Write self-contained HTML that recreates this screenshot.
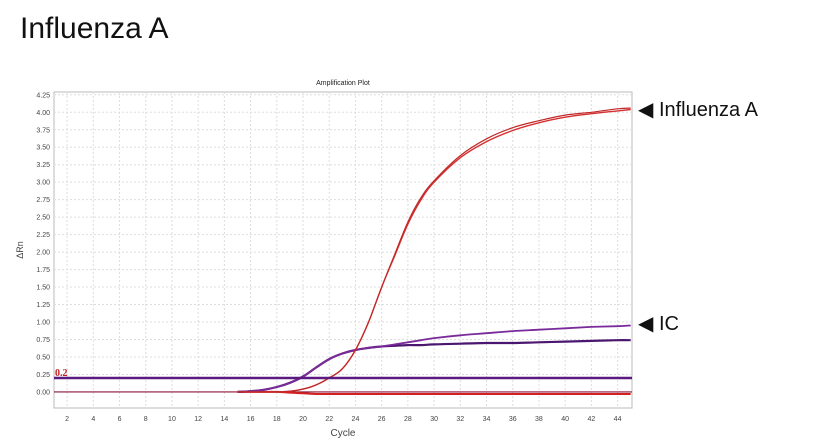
<!DOCTYPE html>
<html><head><meta charset="utf-8"><style>
body{margin:0;width:817px;height:442px;background:#fff;overflow:hidden;font-family:"Liberation Sans",sans-serif}
#title{position:absolute;left:20px;top:12px;font-size:30px;color:#111}
.lab{position:absolute;font-size:20px;color:#111}
</style></head><body>
<div id="title">Influenza A</div>
<div class="lab" style="left:638px;top:97px">◀ Influenza A</div>
<div class="lab" style="left:638px;top:311px">◀ IC</div>
<svg id="chart" width="817" height="442" style="position:absolute;left:0;top:0"></svg>
<script>
const xTicks=[2,4,6,8,10,12,14,16,18,20,22,24,26,28,30,32,34,36,38,40,42,44];
const yTicks=[0,0.25,0.5,0.75,1,1.25,1.5,1.75,2,2.25,2.5,2.75,3,3.25,3.5,3.75,4,4.25];
const cycles=[15,16,17,18,19,20,21,22,23,24,25,26,27,28,29,30,32,34,36,38,40,42,44,45];
const fluA1=[0,0,0,0,0.01,0.04,0.1,0.2,0.33,0.6,1.0,1.5,1.95,2.4,2.75,3.0,3.35,3.58,3.74,3.85,3.93,3.98,4.02,4.04];
const fluA2=[0,0,0,0,0.01,0.04,0.1,0.2,0.33,0.6,1.0,1.5,1.97,2.43,2.78,3.02,3.38,3.62,3.78,3.88,3.96,4.0,4.05,4.06];
const ic1=[0,0.01,0.03,0.07,0.13,0.22,0.35,0.47,0.55,0.6,0.63,0.65,0.66,0.67,0.67,0.68,0.69,0.7,0.7,0.71,0.72,0.73,0.74,0.74];
const ic2=[0,0.01,0.03,0.07,0.13,0.22,0.35,0.47,0.55,0.6,0.63,0.65,0.68,0.71,0.74,0.77,0.81,0.84,0.87,0.89,0.91,0.93,0.94,0.95];
const negCtrl=[0,0,0,0,-0.01,-0.02,-0.03,-0.03,-0.03,-0.03,-0.03,-0.03,-0.03,-0.03,-0.03,-0.03,-0.03,-0.03,-0.03,-0.03,-0.03,-0.03,-0.03,-0.03];
const threshold=0.2;
const L=54,R=632,T=92,B=408,x0=1,x1=45.1,y0=-0.23,y1=4.29;
const X=v=>L+(v-x0)/(x1-x0)*(R-L), Y=v=>B-(v-y0)/(y1-y0)*(B-T);
const svg=document.getElementById('chart'),NS='http://www.w3.org/2000/svg';
function mk(t,a,p){const e=document.createElementNS(NS,t);for(const k in a)e.setAttribute(k,a[k]);(p||svg).appendChild(e);return e;}
const plot=mk('rect',{x:L,y:T,width:R-L,height:B-T,fill:'#fff',stroke:'#bbb'});


xTicks.forEach(t=>{
 const g=mk('line',{x1:X(t),x2:X(t),y1:T,y2:B,stroke:'#ddd','stroke-dasharray':'2,2'});
 
 
 const tx=mk('text',{x:X(t),y:B+13,'font-size':7,'text-anchor':'middle',fill:'#444'});tx.textContent=t;
 
 
});
yTicks.forEach(t=>{
 const g=mk('line',{x1:L,x2:R,y1:Y(t),y2:Y(t),stroke:'#ddd','stroke-dasharray':'2,2'});
 
 
 const tx=mk('text',{x:L-4,y:Y(t)+2.5,'font-size':7,'text-anchor':'end',fill:'#444'});tx.textContent=t.toFixed(2);
 
 
});
let e=mk('text',{x:343,y:85,'font-size':7,'text-anchor':'middle',fill:'#222'});e.textContent='Amplification Plot';


e=mk('text',{x:343,y:436,'font-size':10,'text-anchor':'middle',fill:'#444'});e.textContent='Cycle';


e=mk('text',{x:0,y:0,'font-size':9,'text-anchor':'middle',fill:'#444',transform:'translate(23,250) rotate(-90)'});e.textContent='ΔRn';


e=mk('line',{x1:L,x2:R,y1:Y(0),y2:Y(0),stroke:'#8b1a3a','stroke-width':1.2});


function series(vals,color,w,name){
 const P=cycles.map((c,i)=>[X(c),Y(vals[i])]);
 let d='M'+P[0][0].toFixed(1)+','+P[0][1].toFixed(1);
 for(let i=0;i<P.length-1;i++){
  const p0=P[Math.max(0,i-1)],p1=P[i],p2=P[i+1],p3=P[Math.min(P.length-1,i+2)];
  const c1=[p1[0]+(p2[0]-p0[0])/6,p1[1]+(p2[1]-p0[1])/6];
  const c2=[p2[0]-(p3[0]-p1[0])/6,p2[1]-(p3[1]-p1[1])/6];
  d+=' C'+c1.map(v=>v.toFixed(1)).join(',')+' '+c2.map(v=>v.toFixed(1)).join(',')+' '+p2[0].toFixed(1)+','+p2[1].toFixed(1);
 }
 const p=mk('path',{d:d,fill:'none',stroke:color,'stroke-width':w,'stroke-linejoin':'round'});
 
 
}
series(negCtrl,'#d42020',2,'negative-control-line');
series(ic1,'#4a1670',2.2,'ic-line-1');
series(ic2,'#7a2a9a',1.8,'ic-line-2');
series(fluA1,'#d43030',1.4,'influenza-a-line-1');
series(fluA2,'#c02828',1.2,'influenza-a-line-2');
e=mk('line',{x1:L,x2:R,y1:Y(threshold),y2:Y(threshold),stroke:'#5a1a80','stroke-width':2.5});


e=mk('text',{x:L+1,y:Y(threshold)-2,'font-size':10,'font-weight':'bold',fill:'#c02020','font-family':'Liberation Serif'});e.textContent=threshold;


</script>
</body></html>
